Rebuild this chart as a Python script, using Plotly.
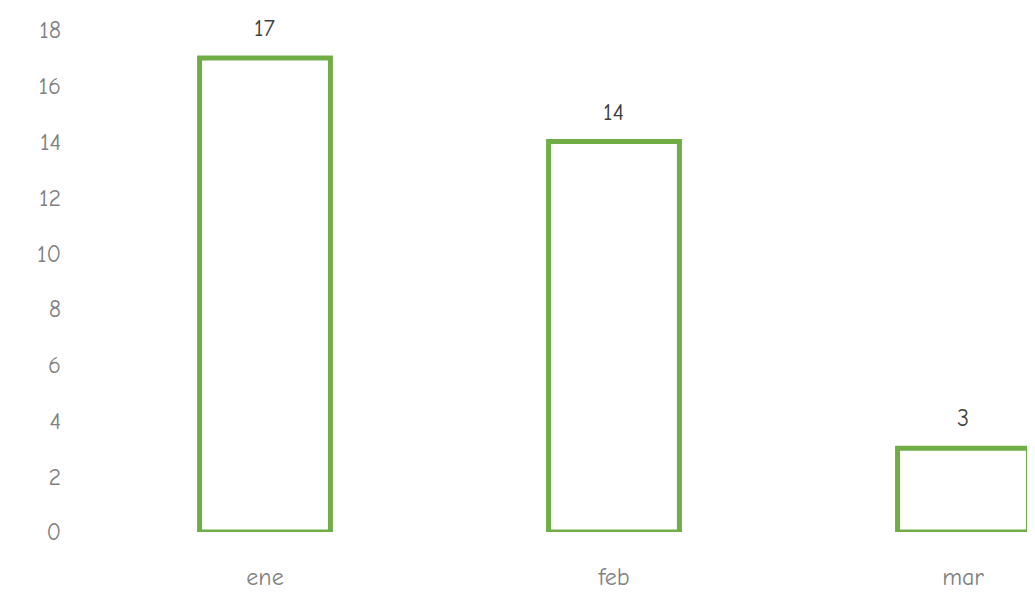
import plotly.graph_objects as go

months = ["ene", "feb", "mar"]
values = [17, 14, 3]
y_ticks = [0, 2, 4, 6, 8, 10, 12, 14, 16, 18]

FONT = "Comic Sans MS, Comic Neue, Noto Sans, sans-serif"
xs = list(range(len(months)))

fig = go.Figure(
    go.Bar(
        x=xs,
        y=values,
        width=0.375,
        marker=dict(color="rgba(0,0,0,0)", line=dict(color="#70AD47", width=5)),
        hoverinfo="x+y",
        cliponaxis=False,
    )
)

for xi, v in zip(xs, values):
    fig.add_annotation(
        x=xi, y=v, text=str(v), showarrow=False,
        yanchor="bottom", yshift=14,
        font=dict(family=FONT, size=24, color="#404040"),
    )

fig.update_layout(
    width=1035,
    height=596,
    margin=dict(l=62, r=8, t=22, b=72),
    paper_bgcolor="white",
    plot_bgcolor="white",
    showlegend=False,
    font=dict(family=FONT, size=24, color="#808080"),
    xaxis=dict(
        range=[-0.5587, 2.2063],
        tickmode="array",
        tickvals=xs,
        ticktext=months,
        showgrid=False,
        zeroline=False,
        showline=False,
        ticks="",
        ticklabelstandoff=28,
        tickfont=dict(family=FONT, size=24, color="#808080"),
    ),
    yaxis=dict(
        range=[0, 18],
        tickmode="array",
        tickvals=y_ticks,
        showgrid=False,
        zeroline=False,
        showline=False,
        ticks="",
        ticklabelstandoff=8,
        tickfont=dict(family=FONT, size=24, color="#808080"),
    ),
)

fig.write_html("out.html")
